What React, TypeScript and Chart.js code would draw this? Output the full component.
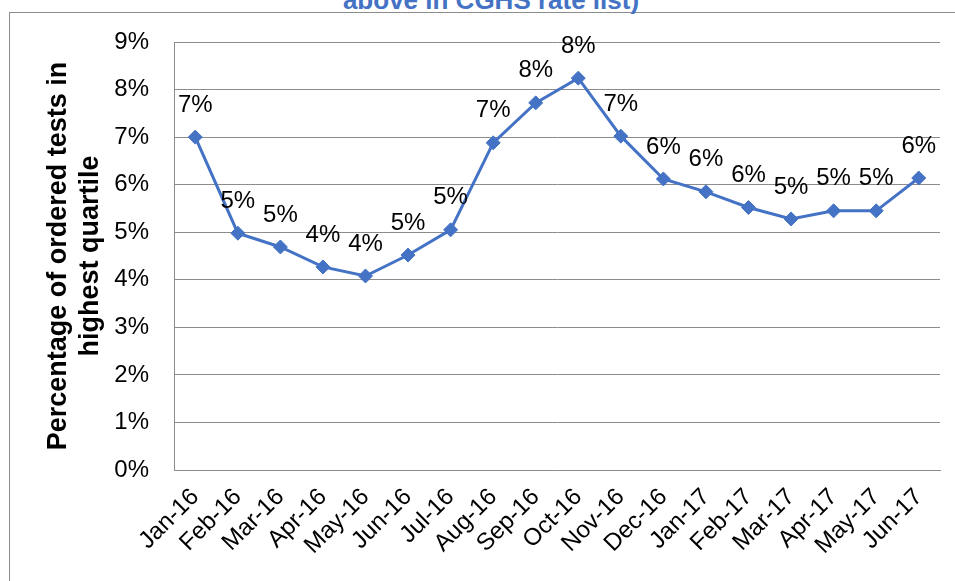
import React, { useEffect, useRef } from "react";
import { Chart, registerables } from "chart.js";

Chart.register(...registerables);

const categories = [
  "Jan-16", "Feb-16", "Mar-16", "Apr-16", "May-16", "Jun-16", "Jul-16", "Aug-16", "Sep-16",
  "Oct-16", "Nov-16", "Dec-16", "Jan-17", "Feb-17", "Mar-17", "Apr-17", "May-17", "Jun-17",
];
const percentValues = [
  7.0, 4.98, 4.69, 4.27, 4.08, 4.52, 5.05, 6.88, 7.72,
  8.24, 7.02, 6.12, 5.85, 5.52, 5.28, 5.45, 5.45, 6.14,
];
const yTicks = [0, 1, 2, 3, 4, 5, 6, 7, 8, 9];
const yTitle = ["Percentage of ordered tests in", "highest quartile"];
const titleText = "above in CGHS rate list)";

const FONT = "'Liberation Sans', Arial, sans-serif";
const BLUE = "#4472C4";
const GRID = "#8c8c8c";

const labelPlugin = {
  id: "pointLabels",
  afterDatasetsDraw(chart: any) {
    const ctx = chart.ctx;
    const meta = chart.getDatasetMeta(0);
    ctx.save();
    ctx.font = `24px ${FONT}`;
    ctx.fillStyle = "#000";
    ctx.textAlign = "center";
    ctx.textBaseline = "middle";
    meta.data.forEach((pt: any, i: number) => {
      const v = percentValues[i];
      ctx.fillText(`${Math.round(v)}%`, pt.x, pt.y - 32);
    });
    ctx.restore();
  },
};

export default function App() {
  const ref = useRef<HTMLCanvasElement | null>(null);

  useEffect(() => {
    if (!ref.current) return;
    const chart = new Chart(ref.current, {
      type: "line",
      data: {
        labels: categories,
        datasets: [
          {
            data: percentValues,
            borderColor: BLUE,
            backgroundColor: BLUE,
            borderWidth: 3,
            pointStyle: "rectRot",
            pointRadius: 7,
            pointBorderWidth: 1,
            pointBackgroundColor: BLUE,
            pointBorderColor: BLUE,
            tension: 0,
          },
        ],
      },
      options: {
        animation: false,
        responsive: false,
        layout: { padding: { left: 0, right: 15, top: 42, bottom: 0 } },
        plugins: {
          legend: { display: false },
          tooltip: { enabled: false },
          title: { display: false },
        },
        scales: {
          x: {
            type: "category",
            offset: true,
            grid: { display: false, drawTicks: false },
            border: { display: true, color: GRID, width: 1 },
            ticks: {
              color: "#000",
              font: { family: FONT, size: 24 },
              maxRotation: 45,
              minRotation: 45,
              autoSkip: false,
              padding: 13,
            },
            afterFit: (scale: any) => {
              scale.height = 111;
            },
          },
          y: {
            min: 0,
            max: 9,
            afterBuildTicks: (scale: any) => {
              scale.ticks = yTicks.map((v) => ({ value: v }));
            },
            grid: { color: GRID, lineWidth: 1, drawTicks: false },
            border: { display: true, color: GRID, width: 1 },
            ticks: {
              color: "#000",
              font: { family: FONT, size: 24 },
              padding: 25,
              callback: (v: any) => `${v}%`,
            },
            title: {
              display: true,
              text: yTitle,
              color: "#000",
              font: { family: FONT, size: 27, weight: "bold", lineHeight: 1.2 },
              padding: { top: 42, bottom: 0 },
            },
            afterFit: (scale: any) => {
              scale.width = 174;
            },
          },
        },
      },
      plugins: [labelPlugin],
    });
    return () => chart.destroy();
  }, []);

  return (
    <div
      style={{
        position: "fixed",
        left: 0,
        top: 0,
        width: 955,
        height: 581,
        overflow: "hidden",
        background: "#fff",
      }}
    >
      <div
        style={{
          position: "absolute",
          left: 9,
          top: 12,
          width: 960,
          height: 600,
          borderLeft: `1px solid ${GRID}`,
          borderTop: `1px solid ${GRID}`,
        }}
      />
      <div
        style={{
          position: "absolute",
          left: 491,
          top: -15,
          transform: "translateX(-50%)",
          whiteSpace: "nowrap",
          fontFamily: FONT,
          fontWeight: "bold",
          fontSize: 26,
          lineHeight: "30px",
          color: BLUE,
        }}
      >
        {titleText}
      </div>
      <canvas
        ref={ref}
        width={955}
        height={581}
        style={{ position: "absolute", left: 0, top: 0 }}
      />
    </div>
  );
}
